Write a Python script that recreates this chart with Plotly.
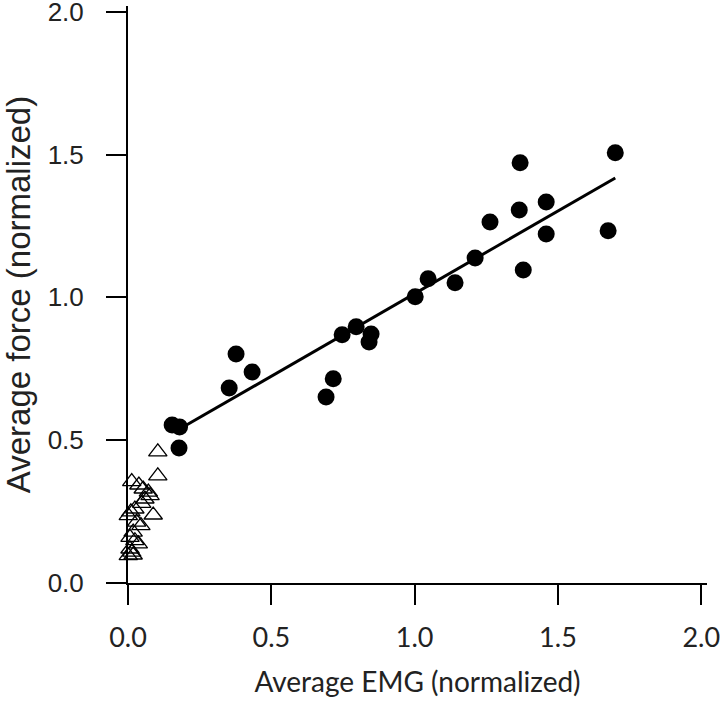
import plotly.graph_objects as go

# Filled circles (higher-force trials)
emg_filled = [0.154, 0.180, 0.178, 0.353, 0.377, 0.433, 0.691, 0.716, 0.747, 0.796,
              0.841, 0.848, 1.002, 1.047, 1.141, 1.211, 1.263, 1.365, 1.368, 1.379,
              1.459, 1.459, 1.675, 1.700]
force_filled = [0.553, 0.546, 0.473, 0.683, 0.802, 0.739, 0.651, 0.715, 0.869, 0.897,
                0.844, 0.872, 1.002, 1.065, 1.051, 1.138, 1.264, 1.306, 1.471, 1.096,
                1.334, 1.222, 1.233, 1.506]

# Open triangles (low-force trials)
emg_open = [0.104, 0.104, 0.088, 0.013, 0.038, 0.053, 0.071, 0.077, 0.059, 0.048,
            0.024, 0.010, 0.001, 0.030, 0.045, 0.018, 0.007, 0.024, 0.036, 0.007,
            0.013, 0.018, 0.001]
force_open = [0.459, 0.375, 0.238, 0.355, 0.343, 0.329, 0.318, 0.306, 0.294, 0.279,
              0.259, 0.249, 0.236, 0.213, 0.201, 0.178, 0.160, 0.148, 0.137, 0.119,
              0.108, 0.098, 0.096]

# Regression line end points
fit_x = [0.192, 1.700]
fit_y = [0.546, 1.418]

tick_vals = [0.0, 0.5, 1.0, 1.5, 2.0]
tick_text = ["0.0", "0.5", "1.0", "1.5", "2.0"]

fig = go.Figure()
fig.add_trace(go.Scatter(x=fit_x, y=fit_y, mode="lines",
                         line=dict(color="black", width=3), showlegend=False,
                         cliponaxis=False))
fig.add_trace(go.Scatter(x=emg_open, y=force_open, mode="markers",
                         marker=dict(symbol="triangle-up-open", size=16, color="black",
                                     line=dict(width=1.3, color="black")),
                         showlegend=False, cliponaxis=False))
fig.add_trace(go.Scatter(x=emg_filled, y=force_filled, mode="markers",
                         marker=dict(symbol="circle", size=17, color="black",
                                     line=dict(width=0)),
                         showlegend=False, cliponaxis=False))

fig.update_layout(
    width=720, height=702,
    margin=dict(l=128, r=13, t=6, b=119),
    paper_bgcolor="white", plot_bgcolor="white",
    xaxis=dict(range=[0, 2.02], tickvals=tick_vals, ticktext=tick_text,
               automargin=False, ticklabeloverflow="allow",
               showgrid=False, zeroline=False, showline=True, linecolor="black",
               linewidth=2, ticks="outside", ticklen=20, tickwidth=2, tickcolor="black",
               ticklabelstandoff=10,
               tickfont=dict(family="Lato", size=27, color="#222"),
               title=dict(text="Average EMG (normalized)", standoff=20,
                          font=dict(family="Lato", size=28, color="#222"))),
    yaxis=dict(range=[0, 2.02], tickvals=tick_vals, ticktext=tick_text,
               automargin=False, ticklabeloverflow="allow",
               showgrid=False, zeroline=False, showline=True, linecolor="black",
               linewidth=2, ticks="outside", ticklen=20, tickwidth=2, tickcolor="black",
               ticklabelstandoff=17,
               tickfont=dict(family="Arial, Liberation Sans, sans-serif", size=26, color="#222"),
               title=dict(text="Average force (normalized)", standoff=33,
                          font=dict(family="Arial, Liberation Sans, sans-serif", size=33, color="#222"))),
)

fig.write_html("out.html", config={"displayModeBar": False},
               post_script="document.body.style.margin='0';document.body.style.overflow='hidden';")
